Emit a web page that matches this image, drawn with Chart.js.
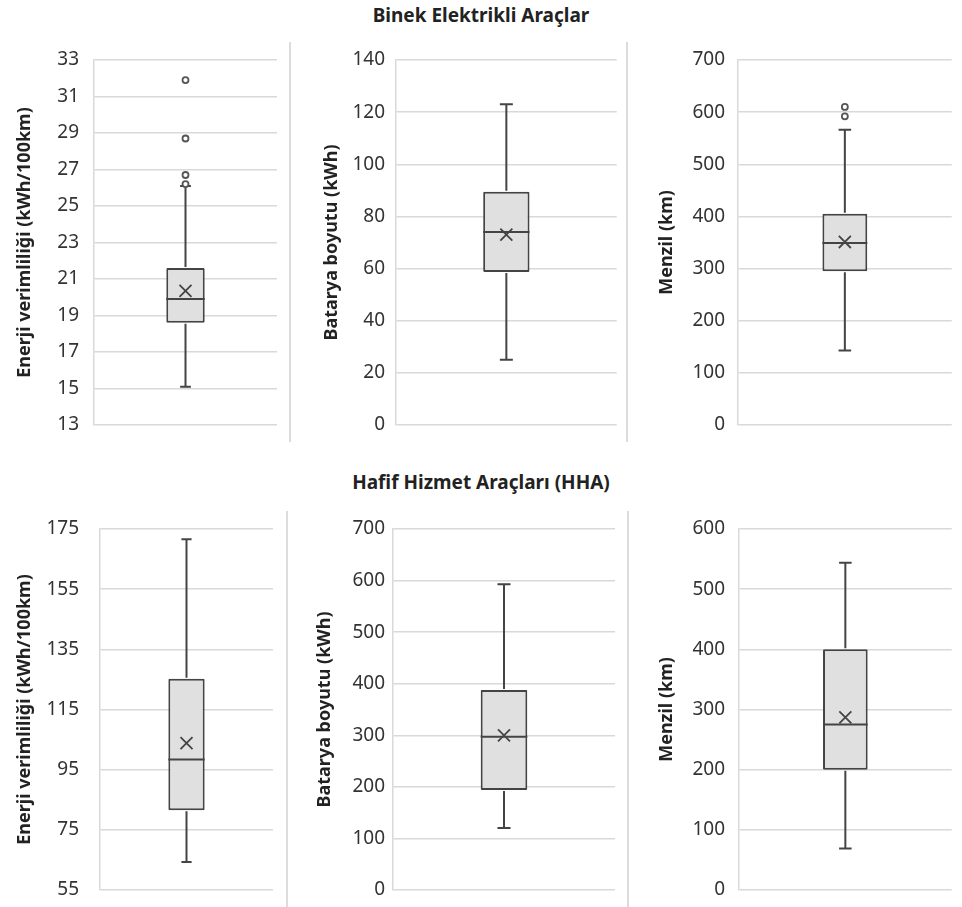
<!DOCTYPE html>
<html>
<head>
<meta charset="utf-8">
<script src="https://cdn.jsdelivr.net/npm/chart.js@4/dist/chart.umd.min.js"></script>
<style>
  body { margin: 0; background: #fff; font-family: "Noto Sans", sans-serif; }
  #page { position: relative; width: 962px; height: 907px; overflow: hidden; }
  .panel { position: absolute; }
  .sep { position: absolute; width: 2px; background: #dcdcdc; }
  .heading { position: absolute; left: 0; width: 962px; text-align: center;
             font-weight: bold; font-size: 19px; color: #222; line-height: 24px; }
</style>
</head>
<body>
<div id="page">
  <div class="heading" style="top:3px">Binek Elektrikli Araçlar</div>
  <div class="heading" style="top:470px">Hafif Hizmet Araçları (HHA)</div>
  <div class="sep" style="left:289px;top:42px;height:400px"></div>
  <div class="sep" style="left:626px;top:42px;height:400px"></div>
  <div class="sep" style="left:286px;top:511px;height:396px"></div>
  <div class="sep" style="left:627px;top:511px;height:396px"></div>
</div>

<script>
// --- DATA ---
const groups = ["Binek Elektrikli Araçlar", "Hafif Hizmet Araçları (HHA)"];
const axisTitles = [
  "Enerji verimliliği (kWh/100km)", "Batarya boyutu (kWh)", "Menzil (km)",
  "Enerji verimliliği (kWh/100km)", "Batarya boyutu (kWh)", "Menzil (km)"
];
const whiskerLow  = [15.1, 25, 143, 64.3, 120, 69];
const q1          = [18.6, 58.7, 295, 81.5, 194, 200];
const medians     = [19.9, 74, 349, 98.4, 297, 275];
const q3          = [21.6, 89.5, 405, 125.2, 388, 400];
const whiskerHigh = [26.1, 123, 566, 171.6, 593, 544];
const means       = [20.35, 73, 351, 103.8, 300, 287];
const outliers    = [[26.2, 26.7, 28.7, 31.9], [], [592, 610], [], [], []];
const yMin  = [13, 0, 0, 55, 0, 0];
const yMax  = [33, 140, 700, 175, 700, 600];
const yStep = [2, 20, 100, 20, 100, 100];

// --- LAYOUT (page pixels) ---
const frames = [
  { left: 0,   top: 40,  width: 290, height: 402, axisW: 94,  padR: 13, padT: 20, padB: 17, tickPad: 15, titlePad: 14 },
  { left: 292, top: 40,  width: 335, height: 402, axisW: 104, padR: 9,  padT: 20, padB: 17, tickPad: 11, titlePad: 29 },
  { left: 629, top: 40,  width: 333, height: 402, axisW: 109, padR: 6,  padT: 20, padB: 17, tickPad: 13, titlePad: 27 },
  { left: 0,   top: 500, width: 287, height: 407, axisW: 100, padR: 14, padT: 29, padB: 17, tickPad: 21, titlePad: 14 },
  { left: 289, top: 500, width: 339, height: 407, axisW: 104, padR: 13, padT: 29, padB: 17, tickPad: 8,  titlePad: 25 },
  { left: 630, top: 500, width: 332, height: 407, axisW: 109, padR: 6,  padT: 29, padB: 17, tickPad: 14, titlePad: 26 }
];

const LINE = "#444";
const GRID = "#d9d9d9";
const FONT = "'Noto Sans', sans-serif";

// whiskers + median, drawn right after the box
const boxWhiskers = {
  id: "boxWhiskers",
  afterDatasetDraw(chart, args) {
    if (args.index !== 0) return;
    const k = chart.options.plugins.boxWhiskers.k;
    const bar = args.meta.data[0];
    const y = chart.scales.y;
    const ctx = chart.ctx;
    const half = bar.width / 2;
    const cap = bar.width * 0.14;
    const yHi = y.getPixelForValue(whiskerHigh[k]);
    const yLo = y.getPixelForValue(whiskerLow[k]);
    const yMed = y.getPixelForValue(medians[k]);
    ctx.save();
    ctx.strokeStyle = LINE;
    ctx.lineWidth = 2;
    ctx.beginPath();
    ctx.moveTo(bar.x - half, yMed);
    ctx.lineTo(bar.x + half, yMed);
    ctx.moveTo(bar.x, y.getPixelForValue(q3[k]) - 1);
    ctx.lineTo(bar.x, yHi);
    ctx.moveTo(bar.x - cap, yHi);
    ctx.lineTo(bar.x + cap, yHi);
    ctx.moveTo(bar.x, y.getPixelForValue(q1[k]) + 1);
    ctx.lineTo(bar.x, yLo);
    ctx.moveTo(bar.x - cap, yLo);
    ctx.lineTo(bar.x + cap, yLo);
    ctx.stroke();
    ctx.restore();
  }
};

function makePanel(k) {
  const f = frames[k];
  const wrap = document.createElement("div");
  wrap.className = "panel";
  wrap.style.left = f.left + "px";
  wrap.style.top = f.top + "px";
  wrap.style.width = f.width + "px";
  wrap.style.height = f.height + "px";
  const canvas = document.createElement("canvas");
  wrap.appendChild(canvas);
  document.getElementById("page").appendChild(wrap);

  const label = axisTitles[k];
  new Chart(canvas, {
    type: "bar",
    data: {
      labels: [label],
      datasets: [
        {
          data: [[q1[k], q3[k]]],
          backgroundColor: "#e0e0e0",
          borderColor: LINE,
          borderWidth: 2,
          borderRadius: 1,
          borderSkipped: false,
          categoryPercentage: 1,
          barPercentage: 0.21,
          order: 2
        },
        {
          type: "line",
          data: [{ x: label, y: means[k] }],
          showLine: false,
          pointStyle: "crossRot",
          pointRadius: 8.5,
          borderColor: LINE,
          borderWidth: 1.8,
          order: 1
        },
        {
          type: "line",
          data: outliers[k].map((v) => ({ x: label, y: v })),
          showLine: false,
          pointStyle: "circle",
          pointRadius: 3,
          backgroundColor: "#fff",
          borderColor: "#555",
          borderWidth: 1.8,
          order: 0
        }
      ]
    },
    options: {
      responsive: true,
      maintainAspectRatio: false,
      animation: false,
      layout: { padding: { left: 0, right: f.padR, top: f.padT, bottom: f.padB } },
      plugins: {
        legend: { display: false },
        tooltip: { enabled: false },
        boxWhiskers: { k: k }
      },
      scales: {
        x: { display: false },
        y: {
          min: yMin[k],
          max: yMax[k],
          afterFit: (scale) => {
            scale.width = f.axisW;
            scale.paddingTop = 0; //    tick padding would otherwise push the plot area in
            scale.paddingBottom = 0;
          },
          ticks: {
            stepSize: yStep[k],
            padding: f.tickPad,
            color: "#333",
            font: { family: FONT, size: 19 }
          },
          grid: { color: GRID, lineWidth: 1.5, drawTicks: false },
          border: { display: true, color: GRID, width: 1.5 },
          title: {
            display: true,
            text: label,
            color: "#222",
            padding: { top: f.titlePad, bottom: 0 },
            font: { family: FONT, size: 18, weight: "bold" }
          }
        }
      }
    },
    plugins: [boxWhiskers]
  });
}

for (let k = 0; k < frames.length; k++) makePanel(k);
</script>
</body>
</html>
